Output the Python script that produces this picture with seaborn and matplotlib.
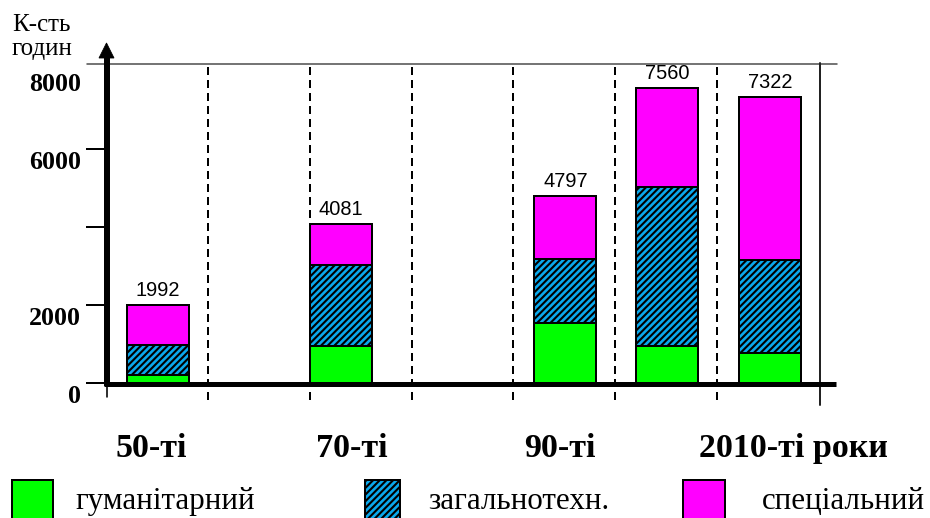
import numpy as np
import pandas as pd
import matplotlib
matplotlib.use("Agg")
import matplotlib.pyplot as plt
import matplotlib.transforms as mtransforms
from matplotlib.lines import Line2D
from matplotlib.patches import Rectangle, Polygon
import seaborn as sns

# ---- data: study hours by curriculum component -------------------------
periods = ["50-ті", "70-ті", "90-ті", "2010-ті роки"]
components = ["гуманітарний", "загальнотехн.", "спеціальний"]
humanities = [208, 956, 1529, 937, 760]
general_tech = [755, 2080, 1648, 4087, 2404]
special = [1029, 1045, 1620, 2536, 4158]
totals = [1992, 4081, 4797, 7560, 7322]
y_tick_values = [0, 2000, 4000, 6000]
y_label_values = [0, 2000, 6000, 8000]

# ---- layout (slot units along x, one slot per dashed column) -----------
bar_slots = [0.51, 2.31, 4.51, 5.51, 6.52]
label_slots = [0.44, 2.41, 4.46, 6.75]
column_edges = [1, 2, 3, 4, 5, 6]
BAR_W = 0.61

DPI = 120
W, H = 930, 518
GREEN, BLUE, MAGENTA = "#00FF00", "#0AA8EC", "#FF00FF"
HATCH = "//////"


def pt(px):
    return px * 72.0 / DPI


def fx(px):
    return px / W


def fy(py):
    return 1 - py / H


sns.set_style("white")
plt.rcParams["font.family"] = ["Liberation Serif", "DejaVu Serif"]
plt.rcParams["text.color"] = "black"
plt.rcParams["xtick.color"] = "black"
plt.rcParams["ytick.color"] = "black"
plt.rcParams["hatch.linewidth"] = pt(2.1)
plt.rcParams["lines.scale_dashes"] = False

fig = plt.figure(figsize=(W / DPI, H / DPI), dpi=DPI, facecolor="white")
ax = fig.add_axes([fx(106), fy(383), 713 / W, 320 / H])

df = pd.DataFrame({"pos": bar_slots, "hum": humanities,
                   "gen": general_tech, "spec": special})
df["top_gen"] = df["hum"] + df["gen"]
df["top_all"] = df["top_gen"] + df["spec"]

width = BAR_W / np.min(np.diff(sorted(bar_slots)))
layers = [("top_all", MAGENTA, None), ("top_gen", BLUE, HATCH), ("hum", GREEN, None)]
for col, color, hatch in layers:
    n0 = len(ax.patches)
    sns.barplot(data=df, x="pos", y=col, native_scale=True, width=width,
                color=color, saturation=1, edgecolor="black",
                linewidth=pt(2), errorbar=None, ax=ax)
    for p in ax.patches[n0:]:
        p.set_edgecolor("black")
        if hatch:
            p.set_hatch(hatch)

ax.set_xlim(0, 7)
ax.set_ylim(0, 8200)
ax.set_xlabel("")
ax.set_ylabel("")
for s in ax.spines.values():
    s.set_visible(False)

# y ticks (marks only, labels sit a little lower)
ax.set_yticks(y_tick_values, labels=[""] * len(y_tick_values))
ax.tick_params(axis="y", left=True, length=pt(20), width=pt(2), color="black")
lab_tr = ax.get_yaxis_transform() + mtransforms.ScaledTranslation(0, -13.5 / DPI, fig.dpi_scale_trans)
for v in y_label_values:
    ax.text(-0.035, v, str(v), transform=lab_tr, ha="right", va="center",
            fontsize=pt(26), fontweight="bold", color="black", clip_on=False)

# period labels under the axis
ax.set_xticks(label_slots, labels=periods)
ax.tick_params(axis="x", bottom=False, length=0, pad=pt(50), labelsize=pt(34),
               labelcolor="black")
for t in ax.get_xticklabels():
    t.set_fontweight("bold")

# totals above the bars
for x, tot in zip(bar_slots, totals):
    ax.annotate(str(tot), (x, tot), xytext=(0, pt(5)), textcoords="offset points",
                ha="center", va="bottom", fontsize=pt(20), color="black",
                family=["Liberation Sans", "DejaVu Sans"])

# column separators
ax.vlines(column_edges, -0.053, 1.0, transform=ax.get_xaxis_transform(),
          colors="black", linewidths=pt(2), linestyles=[(0, (pt(8), pt(5)))],
          clip_on=False)

# frame: top rule, right rule, baseline, arrowed value axis
fig.add_artist(Line2D([fx(87), fx(837)], [fy(64), fy(64)], color="#555555", lw=pt(1.6)))
fig.add_artist(Line2D([fx(819.5), fx(819.5)], [fy(63), fy(405)], color="#222222", lw=pt(2)))
fig.add_artist(Line2D([fx(104), fx(836)], [fy(384), fy(384)], color="black",
                      lw=pt(5), solid_capstyle="butt"))
fig.add_artist(Line2D([fx(106.5), fx(106.5)], [fy(386), fy(56)], color="black",
                      lw=pt(6), solid_capstyle="butt"))
fig.add_artist(Line2D([fx(106.5), fx(106.5)], [fy(383), fy(397)], color="black", lw=pt(1.6)))
fig.add_artist(Polygon([[fx(99), fy(58)], [fx(114), fy(58)], [fx(106.5), fy(43)]],
                       closed=True, facecolor="black", edgecolor="black", lw=0.5))

# axis title
fig.text(fx(12), fy(31), "К-сть", fontsize=pt(25), ha="left", va="baseline", color="black")
fig.text(fx(12), fy(55), "годин", fontsize=pt(25), ha="left", va="baseline", color="black")

# legend row
legend_items = [(12, 53, GREEN, None, 75), (365, 400, BLUE, HATCH, 428),
                (683, 725, MAGENTA, None, 762)]
for (x0, x1, color, hatch, tx), name in zip(legend_items, components):
    fig.add_artist(Rectangle((fx(x0), fy(540)), (x1 - x0) / W, 60 / H,
                             transform=fig.transFigure, facecolor=color,
                             edgecolor="black", lw=pt(2), hatch=hatch))
    fig.text(fx(tx), fy(509), name, fontsize=pt(31), ha="left", va="baseline",
             color="black")

fig.savefig("out.png", dpi=DPI, facecolor="white")
